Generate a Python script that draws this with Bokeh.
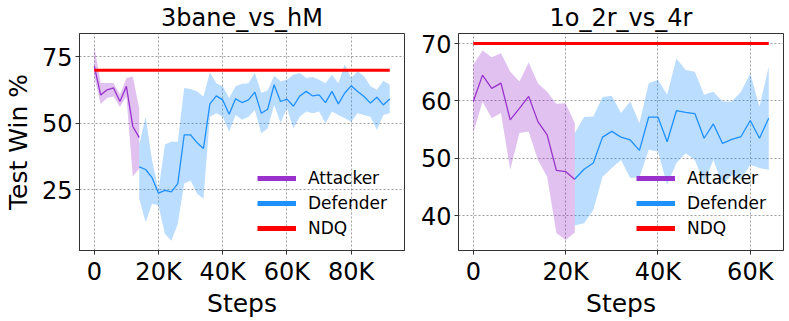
from bokeh.plotting import figure
from bokeh.layouts import row
from bokeh.models import Range1d, FixedTicker, Legend, LegendItem
from bokeh.embed import file_html
from bokeh.resources import INLINE

# ---------------- data (steps in thousands) ----------------
# 3bane_vs_hM
left_att_steps = [0, 2, 4, 6, 8, 10, 12, 14]
left_att_mean = [71.5, 60.6, 62.6, 63.3, 58.2, 63.9, 48.8, 44.6]
left_att_upper = [79.0, 65.2, 65.2, 65.2, 60.7, 67.0, 67.6, 55.5]
left_att_lower = [67.5, 57.3, 59.5, 60.1, 56.1, 60.1, 30.0, 33.0]

left_def_steps = [14, 16, 18, 20, 22, 24, 26, 28, 30, 32, 34, 36, 38, 40, 42, 44, 46, 48, 50, 52,
                  54, 56, 58, 60, 62, 64, 66, 68, 70, 72, 74, 76, 78, 80, 82, 84, 86, 88, 90, 92]
left_def_mean = [33.6, 32.6, 29.5, 23.7, 24.7, 24.2, 27.3, 45.6, 45.6, 42.7, 40.5, 57.3, 60.3, 58.8,
                 53.4, 59.2, 57.8, 58.8, 61.7, 53.8, 55.3, 64.5, 58.2, 59.1, 56.4, 60.3, 62.0, 60.3,
                 60.7, 57.8, 62.0, 57.3, 61.4, 64.1, 62.0, 60.1, 57.6, 59.8, 56.9, 59.1]
left_def_upper = [42.0, 52.5, 36.0, 25.0, 42.0, 43.0, 43.0, 63.3, 62.9, 62.0, 60.1, 69.2, 65.1, 63.9,
                  59.5, 63.9, 64.9, 65.1, 68.9, 61.4, 62.4, 67.9, 65.8, 66.4, 68.3, 68.9, 67.0, 67.4,
                  66.4, 65.1, 68.3, 65.1, 72.1, 67.0, 69.6, 67.7, 63.9, 62.6, 66.0, 64.5]
left_def_lower = [21.6, 12.7, 19.7, 19.0, 8.3, 5.8, 12.1, 27.3, 28.5, 23.5, 21.6, 52.5, 53.8, 52.5,
                  46.8, 53.1, 51.3, 52.5, 55.0, 46.2, 48.1, 56.9, 50.2, 55.7, 48.1, 52.5, 54.4, 53.8,
                  54.4, 50.0, 54.4, 53.1, 51.9, 50.6, 53.8, 53.1, 52.5, 47.5, 53.1, 53.8]
left_ndq_steps = [0, 92]
left_ndq = [70.0, 70.0]

# 1o_2r_vs_4r
right_att_steps = [0, 2, 4, 6, 8, 10, 12, 14, 16, 18, 20, 22]
right_att_mean = [59.9, 64.5, 62.2, 63.1, 56.7, 58.7, 60.8, 56.4, 54.1, 47.9, 47.7, 46.3]
right_att_upper = [66.3, 68.8, 67.6, 68.3, 65.1, 63.4, 66.7, 63.1, 61.6, 59.5, 59.6, 56.1]
right_att_lower = [54.4, 59.9, 57.0, 57.9, 48.0, 54.4, 54.7, 49.7, 46.8, 37.0, 35.8, 37.1]

right_def_steps = [22, 24, 26, 28, 30, 32, 34, 36, 38, 40, 42, 44, 46, 48, 50, 52, 54, 56, 58, 60, 62, 64]
right_def_mean = [46.4, 48.1, 49.2, 53.7, 54.7, 53.7, 53.2, 51.4, 57.2, 57.2, 52.9, 58.3, 58.0, 57.8,
                  53.5, 56.0, 52.6, 53.3, 53.8, 56.6, 53.5, 57.0]
right_def_upper = [54.4, 57.2, 57.3, 60.7, 60.9, 57.9, 59.9, 56.1, 63.1, 63.7, 61.1, 67.4, 65.4, 65.1,
                   61.1, 61.6, 59.9, 59.9, 61.6, 64.8, 59.0, 66.0]
right_def_lower = [38.3, 38.7, 41.0, 46.8, 48.3, 49.7, 46.6, 46.7, 51.5, 51.2, 45.4, 49.2, 50.9, 49.7,
                   45.7, 49.7, 45.4, 47.1, 46.3, 48.9, 48.3, 48.0]
right_ndq_steps = [0, 64]
right_ndq = [70.0, 70.0]

left_xticks = [0, 20, 40, 60, 80]
left_xtick_labels = ["0", "20K", "40K", "60K", "80K"]
left_yticks = [25, 50, 75]
right_xticks = [0, 20, 40, 60]
right_xtick_labels = ["0", "20K", "40K", "60K"]
right_yticks = [40, 50, 60, 70]

series_names = ["Attacker", "Defender", "NDQ"]
titles = ["3bane_vs_hM", "1o_2r_vs_4r"]

ATT = "#9932CC"
DEF = "#1E90FF"
NDQ = "#FF0000"
FONT = "DejaVu Sans"


def make_plot(title, xr, yr, xticks, xlabels, yticks, att, dfd, ndq, ylabel, borders, legend_loc):
    bl, br, bt, bb = borders
    p = figure(frame_width=325, frame_height=217, output_backend="svg", toolbar_location=None,
               x_range=Range1d(*xr), y_range=Range1d(*yr),
               min_border_left=bl, min_border_right=br, min_border_top=bt, min_border_bottom=bb)
    p.title.text = title
    p.title.align = "center"
    p.title.text_font = FONT
    p.title.text_font_size = "24px"
    p.title.text_font_style = "normal"
    p.title.text_color = "black"
    p.title.standoff = 3
    p.title.offset = 0

    for ax in (p.xaxis[0], p.yaxis[0]):
        ax.major_label_text_font = FONT
        ax.major_label_text_font_size = "24px"
        ax.major_label_text_color = "black"
        ax.axis_label_text_font = FONT
        ax.axis_label_text_font_size = "25px"
        ax.axis_label_text_font_style = "normal"
        ax.axis_label_text_color = "black"
        ax.minor_tick_line_color = None
        ax.major_tick_in = 0
        ax.major_tick_out = 4
        ax.major_tick_line_color = "#333333"
        ax.axis_line_color = "#333333"
        ax.major_label_standoff = 3
        ax.axis_label_standoff = 0

    p.xaxis.ticker = FixedTicker(ticks=xticks)
    p.xaxis.major_label_overrides = {t: l for t, l in zip(xticks, xlabels)}
    p.yaxis.ticker = FixedTicker(ticks=yticks)
    p.xaxis.axis_label = "Steps"
    if ylabel:
        p.yaxis.axis_label = ylabel
        p.yaxis.axis_label_standoff = 6

    p.outline_line_color = "#333333"
    p.outline_line_width = 1
    p.grid.grid_line_color = "#888888"
    p.grid.grid_line_dash = "2 2"
    p.grid.grid_line_width = 1
    p.grid.grid_line_alpha = 0.8

    ax_s, ax_m, ax_u, ax_l = att
    df_s, df_m, df_u, df_l = dfd
    nd_s, nd_v = ndq

    p.varea(x=ax_s, y1=ax_l, y2=ax_u, fill_color=ATT, fill_alpha=0.3)
    p.varea(x=df_s, y1=df_l, y2=df_u, fill_color=DEF, fill_alpha=0.3)
    p.line(ax_s, ax_m, line_color=ATT, line_width=1.3)
    p.line(df_s, df_m, line_color=DEF, line_width=1.3)
    p.line(nd_s, nd_v, line_color=NDQ, line_width=3)

    nan = float("nan")
    r1 = p.line([nan], [nan], line_color=ATT, line_width=5)
    r2 = p.line([nan], [nan], line_color=DEF, line_width=5)
    r3 = p.line([nan], [nan], line_color=NDQ, line_width=5)
    legend = Legend(items=[LegendItem(label=series_names[0], renderers=[r1]),
                           LegendItem(label=series_names[1], renderers=[r2]),
                           LegendItem(label=series_names[2], renderers=[r3])],
                    location=legend_loc)
    legend.label_text_font = FONT
    legend.label_text_font_size = "17px"
    legend.label_text_color = "black"
    legend.glyph_width = 39
    legend.glyph_height = 20
    legend.label_height = 20
    legend.spacing = 5
    legend.padding = 0
    legend.margin = 0
    legend.label_standoff = 12
    legend.border_line_alpha = 0
    legend.background_fill_alpha = 0
    p.add_layout(legend)
    return p


p1 = make_plot(titles[0], (-4.6, 96.6), (2.1, 83.8), left_xticks, left_xtick_labels, left_yticks,
               (left_att_steps, left_att_mean, left_att_upper, left_att_lower),
               (left_def_steps, left_def_mean, left_def_upper, left_def_lower),
               (left_ndq_steps, left_ndq), "Test Win %", (78, 8, 33, 57), (178, 12))
p2 = make_plot(titles[1], (-3.2, 67.2), (33.95, 71.75), right_xticks, right_xtick_labels, right_yticks,
               (right_att_steps, right_att_mean, right_att_upper, right_att_lower),
               (right_def_steps, right_def_mean, right_def_upper, right_def_lower),
               (right_ndq_steps, right_ndq), None, (46, 2, 33, 57), (178, 12))

layout = row(p1, p2, spacing=0)
open("out.html", "w").write(file_html(layout, INLINE))
